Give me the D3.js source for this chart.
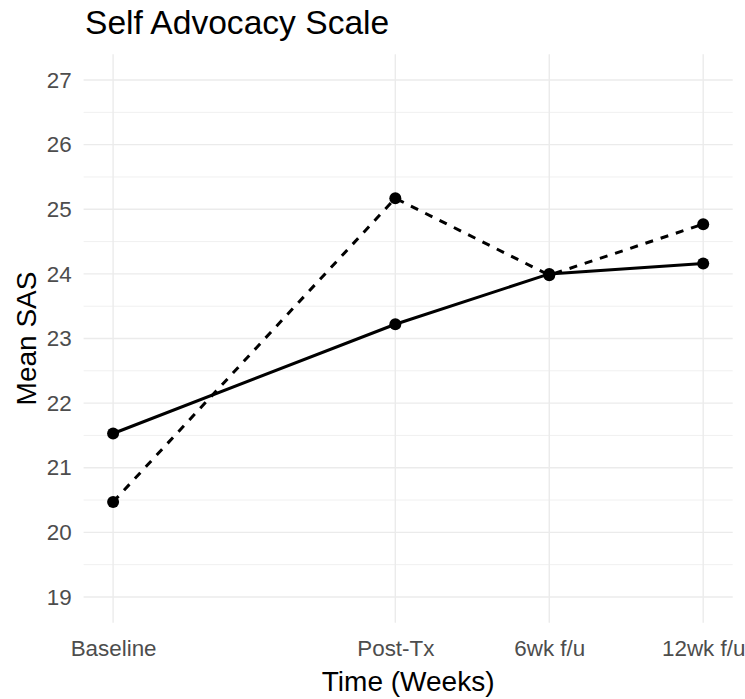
<!DOCTYPE html>
<html>
<head>
<meta charset="utf-8">
<script src="https://cdn.jsdelivr.net/npm/d3@7"></script>
<style>
  html, body { margin: 0; padding: 0; background: #fff; }
  svg { display: block; font-family: "Liberation Sans", Arial, sans-serif; }
</style>
</head>
<body>
<svg id="chart" width="745" height="699"></svg>
<script>
// ---- data ----
const timeLabels = ["Baseline", "Post-Tx", "6wk f/u", "12wk f/u"];
const timeWeeks = [0, 11, 17, 23];
const solidSeries = [21.53, 23.22, 24.00, 24.16];
const dashedSeries = [20.47, 25.17, 23.98, 24.77];
const yTicks = [19, 20, 21, 22, 23, 24, 25, 26, 27];
const yMinor = [18.5, 19.5, 20.5, 21.5, 22.5, 23.5, 24.5, 25.5, 26.5, 27.5];
const titleText = "Self Advocacy Scale";
const xTitle = "Time (Weeks)";
const yTitle = "Mean SAS";

// ---- layout ----
const svg = d3.select("#chart");
const panel = { left: 83.6, right: 732.7, top: 54.2, bottom: 622.8 };

const xPad = (d3.max(timeWeeks) - d3.min(timeWeeks)) * 0.05;
const x = d3.scaleLinear()
  .domain([d3.min(timeWeeks) - xPad, d3.max(timeWeeks) + xPad])
  .range([panel.left, panel.right]);
const y = d3.scaleLinear()
  .domain([18.6, 27.4])
  .range([panel.bottom, panel.top]);

// minor horizontal gridlines
svg.append("g").selectAll("line")
  .data(yMinor.filter(v => v > y.domain()[0] && v < y.domain()[1]))
  .join("line")
  .attr("x1", panel.left).attr("x2", panel.right)
  .attr("y1", d => y(d)).attr("y2", d => y(d))
  .attr("stroke", "#F0F0F0").attr("stroke-width", 1);

// major horizontal gridlines
svg.append("g").selectAll("line")
  .data(yTicks)
  .join("line")
  .attr("x1", panel.left).attr("x2", panel.right)
  .attr("y1", d => y(d)).attr("y2", d => y(d))
  .attr("stroke", "#EBEBEB").attr("stroke-width", 1.4);

// major vertical gridlines
svg.append("g").selectAll("line")
  .data(timeWeeks)
  .join("line")
  .attr("x1", d => x(d)).attr("x2", d => x(d))
  .attr("y1", panel.top).attr("y2", panel.bottom)
  .attr("stroke", "#EBEBEB").attr("stroke-width", 1.4);

// axes labels using d3 axes (no domain / ticks)
const yAxis = d3.axisLeft(y).tickValues(yTicks).tickSize(0).tickPadding(0).tickFormat(d3.format("d"));
const gy = svg.append("g").attr("transform", `translate(${panel.left - 12},0)`).call(yAxis);
gy.select(".domain").remove();
gy.selectAll("text")
  .attr("fill", "#4D4D4D")
  .style("font-size", "22.4px")
  .style("font-family", '"Liberation Sans", Arial, sans-serif');

const xAxis = d3.axisBottom(x).tickValues(timeWeeks).tickSize(0).tickPadding(0)
  .tickFormat((d, i) => timeLabels[i]);
const gx = svg.append("g").attr("transform", `translate(0,${panel.bottom})`).call(xAxis);
gx.select(".domain").remove();
gx.selectAll("text")
  .attr("dy", null)
  .attr("y", 33)
  .attr("fill", "#4D4D4D")
  .style("font-size", "22.4px")
  .style("font-family", '"Liberation Sans", Arial, sans-serif');

// lines
const lineGen = d3.line()
  .x((d, i) => x(timeWeeks[i]))
  .y(d => y(d));

svg.append("path")
  .datum(dashedSeries)
  .attr("d", lineGen)
  .attr("fill", "none")
  .attr("stroke", "#000")
  .attr("stroke-width", 3)
  .attr("stroke-dasharray", "8,8");

svg.append("path")
  .datum(solidSeries)
  .attr("d", lineGen)
  .attr("fill", "none")
  .attr("stroke", "#000")
  .attr("stroke-width", 3);

// points
[dashedSeries, solidSeries].forEach(series => {
  svg.append("g").selectAll("circle")
    .data(series)
    .join("circle")
    .attr("cx", (d, i) => x(timeWeeks[i]))
    .attr("cy", d => y(d))
    .attr("r", 6)
    .attr("fill", "#000");
});

// titles
svg.append("text")
  .attr("x", 85).attr("y", 34)
  .attr("fill", "#000")
  .style("font-size", "33.6px")
  .text(titleText);

svg.append("text")
  .attr("x", (panel.left + panel.right) / 2)
  .attr("y", 691)
  .attr("text-anchor", "middle")
  .attr("fill", "#000")
  .style("font-size", "28px")
  .text(xTitle);

svg.append("text")
  .attr("transform", `translate(36,${(panel.top + panel.bottom) / 2}) rotate(-90)`)
  .attr("text-anchor", "middle")
  .attr("fill", "#000")
  .style("font-size", "28px")
  .text(yTitle);
</script>
</body>
</html>
